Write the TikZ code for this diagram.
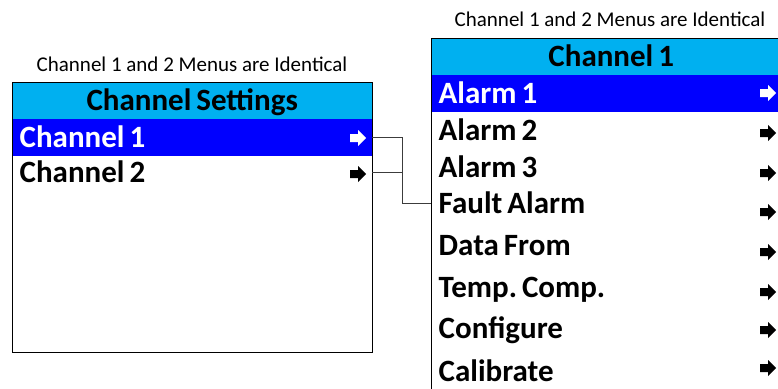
\documentclass[tikz,border=0pt]{standalone}
\usepackage{fontspec}
\setmainfont{Carlito}
\usetikzlibrary{positioning,calc}
\definecolor{hdrblue}{RGB}{0,176,240}
\definecolor{selblue}{RGB}{0,0,255}
\definecolor{linegray}{RGB}{60,60,60}

\tikzset{
	menurow/.style={minimum width=360pt, minimum height=37pt, inner ysep=0pt, inner xsep=7.5pt, text width=345pt, align=left, text height=24pt, text depth=5pt, font=\fontsize{31}{31}\selectfont\bfseries, execute at begin node={\spaceskip=0.16em\xspaceskip=0.16em\relax}, anchor=west},
	hdrrow/.style={menurow, fill=hdrblue, align=center},
	selrow/.style={menurow, fill=selblue, text=white},
	menutitle/.style={anchor=base, inner sep=0pt, font=\fontsize{21}{21}\selectfont},
	conn/.style={draw=linegray, line width=1pt},
	pics/navarrow/.style={code={\fill[#1] (0,-4) -- (8,-4) -- (8,-8) -- (16,0) -- (8,8) -- (8,4) -- (0,4) -- cycle;}}
}

\begin{document}
\begin{tikzpicture}[x=1pt, y=-1pt]
\clip (0,0) rectangle (778,388);

% left menu
\node[menutitle] (ltitle) at (192,71) {Channel 1 and 2 Menus are Identical};
\node[hdrrow] (lhdr) at (12,100.5) {Channel Settings};
\node[selrow, below=0pt of lhdr] (ch1) {Channel 1};
\node[menurow] (ch2) at (12,172.5) {Channel 2};
\node[draw, line width=1.2pt, minimum width=360pt, minimum height=270pt, anchor=north west] (lbox) at (12,82) {};
\pic at (350,138) {navarrow=white};
\pic at (350,174) {navarrow=black};

% right menu
\node[menutitle] (rtitle) at (610,27) {Channel 1 and 2 Menus are Identical};
\node[hdrrow] (rhdr) at (431,56.5) {Channel 1};
\node[selrow, below=0pt of rhdr] (al1) {Alarm 1};
\node[menurow] (al2) at (431,130.5) {Alarm 2};
\node[menurow] (al3) at (431,167.5) {Alarm 3};
\node[menurow] (fa) at (431,203.5) {Fault Alarm};
\node[menurow] (df) at (431,245.5) {Data From};
\node[menurow] (tc) at (431,287.5) {Temp. Comp.};
\node[menurow] (cf) at (431,328.5) {Configure};
\node[menurow, minimum height=30pt] (cb) at (431,371.5) {Calibrate};
\node[draw, line width=1.2pt, minimum width=360pt, minimum height=370pt, anchor=north west] (rbox) at (431,38) {};
\pic at (760,93) {navarrow=white};
\foreach \y in {133,173,212,252,292,330,368}
	\pic at (760,\y) {navarrow=black};

% links
\coordinate (jn) at (402,0);
\draw[conn] (ch1.east) -- (ch1.east -| jn) |- (fa.west);
\draw[conn] (ch2.east) -- (ch2.east -| jn);
\end{tikzpicture}
\end{document}
